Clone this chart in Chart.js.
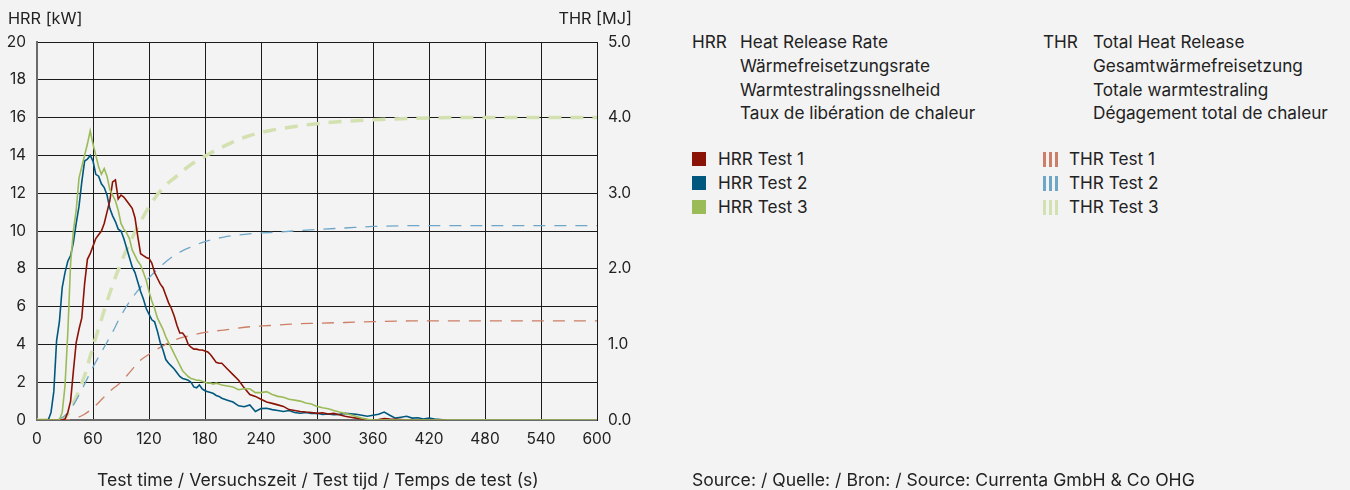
<!DOCTYPE html>
<html>
<head>
<meta charset="utf-8">
<script src="https://cdn.jsdelivr.net/npm/chart.js@4/dist/chart.umd.min.js"></script>
<style>
  body { margin: 0; background: #f3f3f3; font-family: Inter, "Noto Sans", sans-serif; color: #222; }
  #wrap { position: relative; width: 1350px; height: 490px; overflow: hidden; }
  #chartBox { position: absolute; left: 0; top: 0; width: 640px; height: 490px; }
  .t { position: absolute; font-size: 17.2px; line-height: 20px; white-space: nowrap; }
  .ax { font-size: 16.3px; }
  .rodape { font-size: 17.6px; }
  .sq { position: absolute; width: 14px; height: 14px; }
  .bars { position: absolute; width: 15px; height: 15px; }
  .bars i { position: absolute; top: 0; width: 3px; height: 15px; }
</style>
</head>
<body>
<div id="wrap">
  <div id="chartBox"><canvas id="hrrChart"></canvas></div>

  <div class="t ax" style="left:8px;top:8px;">HRR [kW]</div>
  <div class="t ax" style="right:718px;top:8px;">THR [MJ]</div>
  <div class="t rodape" style="left:97px;top:470px;">Test time / Versuchszeit / Test tijd / Temps de test (s)</div>
  <div class="t rodape" style="left:692px;top:470px;">Source: / Quelle: / Bron: / Source: Currenta GmbH &amp; Co OHG</div>

  <div class="t" style="left:692px;top:32px;">HRR</div>
  <div class="t" style="left:740px;top:32px;">Heat Release Rate</div>
  <div class="t" style="left:740px;top:56px;">Wärmefreisetzungsrate</div>
  <div class="t" style="left:740px;top:80px;">Warmtestralingssnelheid</div>
  <div class="t" style="left:740px;top:103px;">Taux de libération de chaleur</div>

  <div class="t" style="left:1043px;top:32px;">THR</div>
  <div class="t" style="left:1093px;top:32px;">Total Heat Release</div>
  <div class="t" style="left:1093px;top:56px;">Gesamtwärmefreisetzung</div>
  <div class="t" style="left:1093px;top:80px;">Totale warmtestraling</div>
  <div class="t" style="left:1093px;top:103px;">Dégagement total de chaleur</div>

  <div id="legendBox"></div>
</div>

<script>
// ====== Dados ======
const tempo = [
  0, 3, 6, 9, 12, 15, 18, 21, 24, 27,
  30, 33, 36, 39, 42, 45, 48, 51, 54, 57,
  60, 63, 66, 69, 72, 75, 78, 81, 84, 87,
  90, 93, 96, 99, 102, 105, 108, 111, 114, 117,
  120, 123, 126, 129, 132, 135, 138, 141, 144, 147,
  150, 153, 156, 159, 162, 165, 168, 171, 174, 177,
  180, 183, 186, 189, 192, 195, 198,
  204, 210, 216, 222, 228, 234, 240, 246, 252, 258,
  264, 270, 276, 282, 288, 294, 300, 306, 312, 318,
  324, 330, 336, 342, 348, 354, 360, 366, 372, 378,
  384, 390, 396, 402, 408, 414, 420, 426, 432, 438,
  450, 480, 510, 540, 570, 600
];

const hrrTest1 = [
  0, 0, 0, 0, 0, 0, 0, 0, 0, 0,
  0.05, 0.4, 1.0, 2.6, 4.1, 4.8, 5.4, 7.2, 8.5, 8.8,
  9.2, 9.6, 9.8, 10.0, 10.4, 11.0, 11.6, 12.6, 12.7, 11.7,
  11.9, 11.8, 11.6, 11.4, 11.2, 10.7, 9.7, 8.8, 8.7, 8.6,
  8.55, 8.3, 7.8, 7.5, 7.2, 7.0, 6.6, 6.2, 5.9, 5.5,
  5.0, 4.6, 4.6, 4.4, 4.0, 3.85, 3.75, 3.75, 3.7, 3.7,
  3.65, 3.6, 3.45, 3.25, 3.05, 3.0, 3.0,
  2.7, 2.4, 2.1, 1.7, 1.35, 1.25, 1.1, 0.95, 0.88, 0.8,
  0.72, 0.55, 0.5, 0.45, 0.42, 0.4, 0.35, 0.38, 0.32, 0.35,
  0.28, 0.2, 0.15, 0.1, 0.05, 0.02, 0, 0.03, 0.08, 0.05,
  0.04, 0.02, 0, 0, 0, 0, 0, 0, 0, 0,
  null, null, null, null, null, null
];

const hrrTest2 = [
  0, 0, 0, 0, 0, 0.4, 1.5, 4.2, 5.2, 7.0,
  7.8, 8.4, 8.7, 9.4, 10.4, 11.3, 12.6, 13.7, 13.8, 14.0,
  13.7, 13.0, 12.9, 12.5, 12.3, 11.9, 11.2, 10.8, 10.5, 10.1,
  10.0, 9.6, 9.1, 8.6, 8.1, 7.8, 7.3, 6.8, 6.4, 5.9,
  5.6, 5.3, 5.2, 4.7, 4.1, 3.7, 3.2, 3.0, 2.85, 2.7,
  2.5, 2.3, 2.2, 2.15, 2.1, 2.0, 1.75, 1.7, 1.85, 1.65,
  1.55, 1.5, 1.45, 1.4, 1.3, 1.25, 1.15,
  1.05, 0.95, 0.75, 0.7, 0.8, 0.45, 0.6, 0.62, 0.55, 0.5,
  0.45, 0.5, 0.4, 0.36, 0.4, 0.35, 0.36, 0.3, 0.32, 0.28,
  0.3, 0.35, 0.33, 0.3, 0.25, 0.2, 0.25, 0.3, 0.42, 0.25,
  0.1, 0.15, 0.2, 0.1, 0.12, 0.05, 0.1, 0.05, 0.03, 0,
  null, null, null, null, null, null
];

const hrrTest3 = [
  0, 0, 0, 0, 0, 0, 0, 0, 0, 0.4,
  1.8, 4.6, 8.3, 10.0, 11.1, 12.8, 13.4, 14.0, 14.6, 15.3,
  14.6, 14.0, 13.4, 13.0, 13.3, 12.9, 12.2, 11.9, 11.6, 11.1,
  10.4, 10.1, 9.9, 9.6, 9.0, 8.7, 8.4, 8.2, 7.8, 7.4,
  6.8, 6.3, 5.9, 5.4, 5.1, 4.8, 4.4, 4.1, 3.8, 3.5,
  3.2, 2.9, 2.6, 2.45, 2.3, 2.2, 2.15, 2.1, 2.1, 2.05,
  2.0, 1.95, 1.95, 1.9, 1.95, 1.9, 1.85,
  1.8, 1.75, 1.6, 1.65, 1.65, 1.45, 1.45, 1.5, 1.35, 1.25,
  1.2, 1.1, 1.05, 1.0, 0.9, 0.85, 0.72, 0.65, 0.6, 0.5,
  0.42, 0.35, 0.28, 0.18, 0.1, 0.04, 0, 0, 0, 0,
  0, 0, 0, 0, 0, 0, 0, 0, 0, 0,
  0, 0, 0, 0, 0, 0
];

const tempoThr = [0, 20, 30, 40, 50, 60, 70, 80, 90, 100, 110, 120, 135, 150, 165, 180, 200, 225, 250, 275, 300, 330, 360, 400, 450, 500, 550, 600];
const thrTest1 = [0, 0, 0, 0.02, 0.07, 0.16, 0.28, 0.4, 0.5, 0.64, 0.78, 0.87, 0.98, 1.07, 1.12, 1.16, 1.19, 1.23, 1.25, 1.27, 1.28, 1.29, 1.3, 1.31, 1.31, 1.31, 1.31, 1.31];
const thrTest2 = [0, 0, 0.06, 0.22, 0.45, 0.7, 0.92, 1.14, 1.38, 1.58, 1.74, 1.88, 2.06, 2.2, 2.29, 2.36, 2.42, 2.46, 2.48, 2.5, 2.52, 2.54, 2.56, 2.57, 2.57, 2.57, 2.57, 2.57];
const thrTest3 = [0, 0, 0.03, 0.25, 0.55, 0.97, 1.37, 1.75, 2.08, 2.36, 2.6, 2.82, 3.07, 3.23, 3.38, 3.49, 3.62, 3.75, 3.83, 3.88, 3.92, 3.95, 3.97, 3.99, 4.0, 4.0, 4.0, 4.0];

const ticksX = [0, 60, 120, 180, 240, 300, 360, 420, 480, 540, 600];

const cores = {
  hrr1: '#8b1306', hrr2: '#00587f', hrr3: '#9bbb59',
  thr1: '#cc7e66', thr2: '#6ea6c8', thr3: '#d3e0b0'
};

function pontos(xs, ys) {
  return xs.map((x, i) => ({ x: x, y: ys[i] }));
}

// ====== Legenda ======
const legenda = [
  { tipo: 'sq', cor: cores.hrr1, texto: 'HRR Test 1', x: 692, y: 152 },
  { tipo: 'sq', cor: cores.hrr2, texto: 'HRR Test 2', x: 692, y: 176 },
  { tipo: 'sq', cor: cores.hrr3, texto: 'HRR Test 3', x: 692, y: 200 },
  { tipo: 'bars', cor: cores.thr1, texto: 'THR Test 1', x: 1043, y: 152 },
  { tipo: 'bars', cor: cores.thr2, texto: 'THR Test 2', x: 1043, y: 176 },
  { tipo: 'bars', cor: cores.thr3, texto: 'THR Test 3', x: 1043, y: 200 }
];
const legendBox = document.getElementById('legendBox');
legenda.forEach(item => {
  const m = document.createElement('div');
  m.className = item.tipo;
  m.style.left = item.x + 'px';
  m.style.top = item.y + 'px';
  if (item.tipo === 'sq') {
    m.style.background = item.cor;
  } else {
    [0, 6, 12].forEach(off => {
      const b = document.createElement('i');
      b.style.left = off + 'px';
      b.style.background = item.cor;
      m.appendChild(b);
    });
  }
  legendBox.appendChild(m);
  const t = document.createElement('div');
  t.className = 't';
  t.textContent = item.texto;
  t.style.left = (item.x + 26) + 'px';
  t.style.top = (item.y - 3) + 'px';
  legendBox.appendChild(t);
});

// ====== Gráfico ======
const ctx = document.getElementById('hrrChart').getContext('2d');
new Chart(ctx, {
  type: 'line',
  data: {
    datasets: [
      { label: 'HRR Test 3', data: pontos(tempo, hrrTest3), borderColor: cores.hrr3, borderWidth: 1.6, pointRadius: 0, tension: 0, yAxisID: 'y' },
      { label: 'HRR Test 1', data: pontos(tempo, hrrTest1), borderColor: cores.hrr1, borderWidth: 1.6, pointRadius: 0, tension: 0, yAxisID: 'y' },
      { label: 'HRR Test 2', data: pontos(tempo, hrrTest2), borderColor: cores.hrr2, borderWidth: 1.6, pointRadius: 0, tension: 0, yAxisID: 'y' },
      { label: 'THR Test 1', data: pontos(tempoThr, thrTest1), borderColor: cores.thr1, borderWidth: 1.3, borderDash: [12, 9], pointRadius: 0, cubicInterpolationMode: 'monotone', yAxisID: 'y2' },
      { label: 'THR Test 2', data: pontos(tempoThr, thrTest2), borderColor: cores.thr2, borderWidth: 1.3, borderDash: [12, 9], pointRadius: 0, cubicInterpolationMode: 'monotone', yAxisID: 'y2' },
      { label: 'THR Test 3', data: pontos(tempoThr, thrTest3), borderColor: cores.thr3, borderWidth: 3.5, borderDash: [13, 9], pointRadius: 0, cubicInterpolationMode: 'monotone', yAxisID: 'y2' }
    ]
  },
  options: {
    responsive: true,
    maintainAspectRatio: false,
    animation: false,
    layout: { padding: { top: 42, bottom: 0, left: 0, right: 0 } },
    plugins: { legend: { display: false }, tooltip: { enabled: false } },
    scales: {
      x: {
        type: 'linear', min: 0, max: 600,
        afterBuildTicks: s => { s.ticks = ticksX.map(v => ({ value: v })); },
        afterFit: s => { s.height = 70; },
        ticks: { color: '#222', font: { family: 'Inter', size: 15.5 }, padding: 10 },
        grid: { color: '#1a1a1a', lineWidth: 1, drawTicks: false },
        border: { color: '#6a6a6a', width: 2 }
      },
      y: {
        position: 'left', min: 0, max: 20,
        afterFit: s => { s.width = 37; },
        ticks: { stepSize: 2, color: '#222', font: { family: 'Inter', size: 15.5 }, padding: 11 },
        grid: { color: '#1a1a1a', lineWidth: 1, drawTicks: false },
        border: { color: '#6a6a6a', width: 2 }
      },
      y2: {
        position: 'right', min: 0, max: 5,
        afterFit: s => { s.width = 43; },
        ticks: { stepSize: 1, color: '#222', font: { family: 'Inter', size: 15.5 }, padding: 11, callback: v => v.toFixed(1) },
        grid: { display: false, drawTicks: false },
        border: { color: '#1a1a1a', width: 1 }
      }
    }
  }
});
</script>
</body>
</html>
